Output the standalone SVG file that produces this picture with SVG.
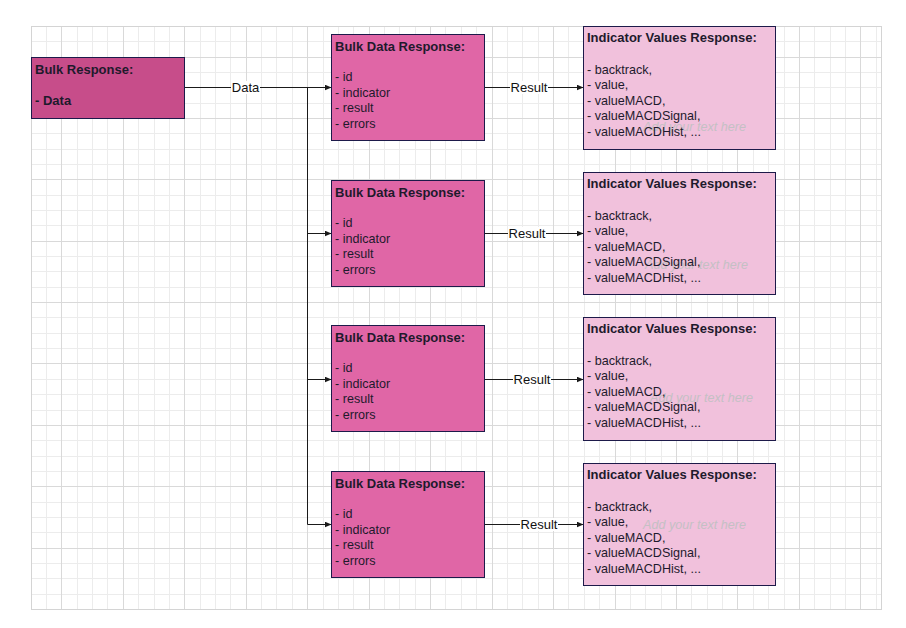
<svg xmlns="http://www.w3.org/2000/svg" width="906" height="628" viewBox="0 0 906 628">
  <style>
    .minor { stroke: #ececec; stroke-width: 1; fill: none; }
    .major { stroke: #d9d9d9; stroke-width: 1; fill: none; }
    .frame { stroke: #d4d4d4; stroke-width: 1; fill: none; }
    .box { stroke: #1d1a4a; stroke-width: 1; }
    .bulk { fill: #c74d8a; }
    .bdr { fill: #e066a6; }
    .ivr { fill: #f1c1dc; }
    text { font-family: "Liberation Sans", Arial, sans-serif; fill: #1e1a2c; }
    .title { font-size: 13px; font-weight: bold; }
    .item { font-size: 12.6px; }
    .lbl { font-size: 13px; text-anchor: middle; fill: #111; }
    .hint { font-size: 12.6px; font-style: italic; fill: #c4c0c4; }
    .wire { stroke: #1a1a1a; stroke-width: 1; fill: none; }
    .lblbg { fill: #ffffff; }
  </style>
  <defs>
    <marker id="arrow" markerUnits="userSpaceOnUse" markerWidth="8" markerHeight="7" refX="7" refY="3" orient="auto">
      <path d="M0,0 L7,3 L0,6 z" fill="#1a1a1a"/>
    </marker>
  </defs>

  <rect width="906" height="628" fill="#ffffff"/>

  <!-- background grid -->
  <g id="grid">
    <path class="minor" d="M46.5 26V609M77.5 26V609M92.5 26V609M107.5 26V609M138.5 26V609M154.5 26V609M169.5 26V609M200.5 26V609M215.5 26V609M230.5 26V609M261.5 26V609M276.5 26V609M292.5 26V609M323.5 26V609M338.5 26V609M353.5 26V609M384.5 26V609M399.5 26V609M415.5 26V609M445.5 26V609M461.5 26V609M476.5 26V609M507.5 26V609M522.5 26V609M538.5 26V609M568.5 26V609M584.5 26V609M599.5 26V609M630.5 26V609M645.5 26V609M661.5 26V609M691.5 26V609M707.5 26V609M722.5 26V609M753.5 26V609M768.5 26V609M784.5 26V609M814.5 26V609M830.5 26V609M845.5 26V609M876.5 26V609
      M31 41.5H881M31 72.5H881M31 87.5H881M31 103.5H881M31 133.5H881M31 149.5H881M31 164.5H881M31 195.5H881M31 210.5H881M31 225.5H881M31 256.5H881M31 271.5H881M31 287.5H881M31 317.5H881M31 333.5H881M31 348.5H881M31 379.5H881M31 394.5H881M31 410.5H881M31 440.5H881M31 456.5H881M31 471.5H881M31 502.5H881M31 517.5H881M31 532.5H881M31 563.5H881M31 578.5H881M31 594.5H881"/>
    <path class="major" d="M61.5 26V609M123.5 26V609M184.5 26V609M246.5 26V609M307.5 26V609M369.5 26V609M430.5 26V609M492.5 26V609M553.5 26V609M615.5 26V609M676.5 26V609M737.5 26V609M799.5 26V609M860.5 26V609
      M31 57.5H881M31 118.5H881M31 179.5H881M31 241.5H881M31 302.5H881M31 363.5H881M31 425.5H881M31 486.5H881M31 548.5H881"/>
    <rect class="frame" x="31.5" y="26.5" width="850" height="583"/>
  </g>

  <!-- connectors -->
  <g id="connectors">
    <path class="wire" d="M184.5 87.5H331.5" marker-end="url(#arrow)"/>
    <path class="wire" d="M307.5 87.5V524.5"/>
    <path class="wire" d="M307.5 233.5H331.5" marker-end="url(#arrow)"/>
    <path class="wire" d="M307.5 379.5H331.5" marker-end="url(#arrow)"/>
    <path class="wire" d="M307.5 524.5H331.5" marker-end="url(#arrow)"/>
    <path class="wire" d="M484.5 87.5H583.5" marker-end="url(#arrow)"/>
    <path class="wire" d="M484.5 233.5H583.5" marker-end="url(#arrow)"/>
    <path class="wire" d="M484.5 379.5H583.5" marker-end="url(#arrow)"/>
    <path class="wire" d="M484.5 524.5H583.5" marker-end="url(#arrow)"/>
    <rect class="lblbg" x="231" y="81" width="29" height="13"/>
    <text class="lbl" x="245.5" y="92">Data</text>
    <rect class="lblbg" x="510" y="81" width="38" height="13"/>
    <text class="lbl" x="529" y="92">Result</text>
    <rect class="lblbg" x="508" y="227" width="38" height="13"/>
    <text class="lbl" x="527" y="238">Result</text>
    <rect class="lblbg" x="513" y="373" width="38" height="13"/>
    <text class="lbl" x="532" y="384">Result</text>
    <rect class="lblbg" x="520" y="518" width="38" height="13"/>
    <text class="lbl" x="539" y="529">Result</text>
  </g>

  <!-- source -->
  <g id="bulk-response">
    <rect class="box bulk" x="31.5" y="57.5" width="153" height="61"/>
    <text class="title" x="35" y="74">Bulk Response:</text>
    <text class="title" x="35" y="105">- Data</text>
  </g>

  <!-- per-item responses -->
  <g id="bulk-data-1">
    <rect class="box bdr" x="331.5" y="34.5" width="153" height="106"/>
    <text class="title" x="335" y="50.5">Bulk Data Response:</text>
    <text class="item" x="335" y="81">- id</text>
    <text class="item" x="335" y="96.5">- indicator</text>
    <text class="item" x="335" y="112">- result</text>
    <text class="item" x="335" y="127.5">- errors</text>
  </g>
  <g id="bulk-data-2">
    <rect class="box bdr" x="331.5" y="180.5" width="153" height="106"/>
    <text class="title" x="335" y="196.5">Bulk Data Response:</text>
    <text class="item" x="335" y="227">- id</text>
    <text class="item" x="335" y="242.5">- indicator</text>
    <text class="item" x="335" y="258">- result</text>
    <text class="item" x="335" y="273.5">- errors</text>
  </g>
  <g id="bulk-data-3">
    <rect class="box bdr" x="331.5" y="325.5" width="153" height="106"/>
    <text class="title" x="335" y="341.5">Bulk Data Response:</text>
    <text class="item" x="335" y="372">- id</text>
    <text class="item" x="335" y="387.5">- indicator</text>
    <text class="item" x="335" y="403">- result</text>
    <text class="item" x="335" y="418.5">- errors</text>
  </g>
  <g id="bulk-data-4">
    <rect class="box bdr" x="331.5" y="471.5" width="153" height="106"/>
    <text class="title" x="335" y="487.5">Bulk Data Response:</text>
    <text class="item" x="335" y="518">- id</text>
    <text class="item" x="335" y="533.5">- indicator</text>
    <text class="item" x="335" y="549">- result</text>
    <text class="item" x="335" y="564.5">- errors</text>
  </g>

  <!-- indicator values -->
  <g id="indicator-values-1">
    <rect class="box ivr" x="583.5" y="26.5" width="192" height="123"/>
    <text class="title" x="587" y="42">Indicator Values Response:</text>
    <text class="item" x="587" y="73.5">- backtrack,</text>
    <text class="item" x="587" y="89">- value,</text>
    <text class="item" x="587" y="104.5">- valueMACD,</text>
    <text class="item" x="587" y="120">- valueMACDSignal,</text>
    <text class="hint" x="643" y="131">Add your text here</text>
    <text class="item" x="587" y="135.5">- valueMACDHist, ...</text>
  </g>
  <g id="indicator-values-2">
    <rect class="box ivr" x="583.5" y="172.5" width="192" height="122"/>
    <text class="title" x="587" y="188">Indicator Values Response:</text>
    <text class="item" x="587" y="219.5">- backtrack,</text>
    <text class="item" x="587" y="235">- value,</text>
    <text class="item" x="587" y="250.5">- valueMACD,</text>
    <text class="hint" x="645" y="269">Add your text here</text>
    <text class="item" x="587" y="266">- valueMACDSignal,</text>
    <text class="item" x="587" y="281.5">- valueMACDHist, ...</text>
  </g>
  <g id="indicator-values-3">
    <rect class="box ivr" x="583.5" y="317.5" width="192" height="123"/>
    <text class="title" x="587" y="333">Indicator Values Response:</text>
    <text class="item" x="587" y="364.5">- backtrack,</text>
    <text class="item" x="587" y="380">- value,</text>
    <text class="hint" x="650" y="402">Add your text here</text>
    <text class="item" x="587" y="395.5">- valueMACD,</text>
    <text class="item" x="587" y="411">- valueMACDSignal,</text>
    <text class="item" x="587" y="426.5">- valueMACDHist, ...</text>
  </g>
  <g id="indicator-values-4">
    <rect class="box ivr" x="583.5" y="463.5" width="192" height="122"/>
    <text class="title" x="587" y="479">Indicator Values Response:</text>
    <text class="item" x="587" y="510.5">- backtrack,</text>
    <text class="hint" x="643" y="529">Add your text here</text>
    <text class="item" x="587" y="526">- value,</text>
    <text class="item" x="587" y="541.5">- valueMACD,</text>
    <text class="item" x="587" y="557">- valueMACDSignal,</text>
    <text class="item" x="587" y="572.5">- valueMACDHist, ...</text>
  </g>
</svg>
